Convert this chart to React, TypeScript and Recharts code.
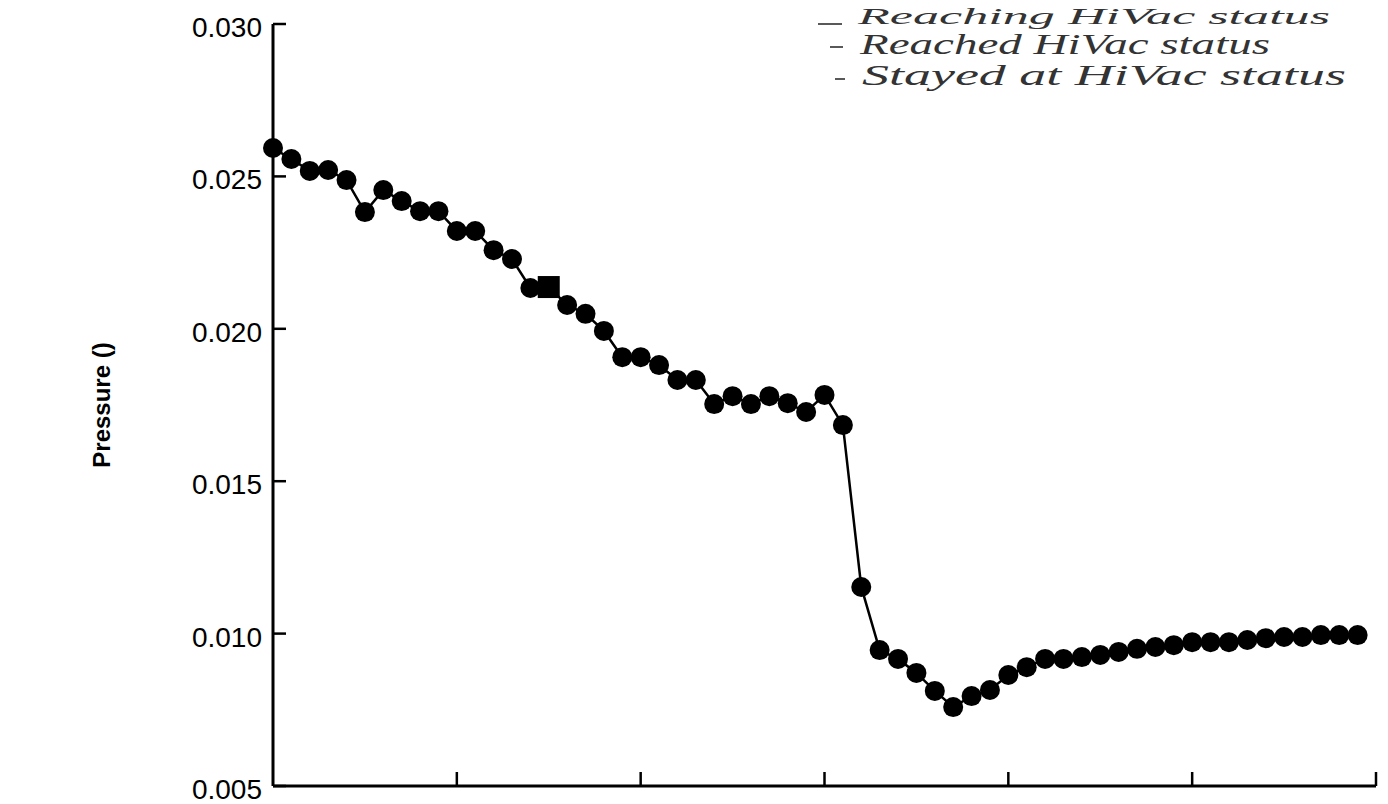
import React from "react";
import { LineChart, Line, XAxis, YAxis, Customized } from "recharts";

const timeIndex: number[] = Array.from({ length: 60 }, (_, i) => i);

const pressure: number[] = [
  0.02593, 0.02557, 0.02518, 0.02521, 0.02488, 0.02383, 0.02455, 0.02419, 0.02386, 0.02386,
  0.02321, 0.02321, 0.02258, 0.02229, 0.02134, 0.02137, 0.02078, 0.02049, 0.01993, 0.01907,
  0.01907, 0.01881, 0.01832, 0.01832, 0.01753, 0.01779, 0.01753, 0.01779, 0.01756, 0.01727,
  0.01783, 0.01684, 0.01153, 0.00946, 0.00917, 0.00871, 0.00812, 0.00759, 0.00795, 0.00815,
  0.00864, 0.0089, 0.00917, 0.00917, 0.00923, 0.0093, 0.0094, 0.0095, 0.00956, 0.00962,
  0.00972, 0.00972, 0.00972, 0.00979, 0.00985, 0.00989, 0.00989, 0.00995, 0.00995, 0.00995,
];

const squareIndex = 15;

const yTicks: number[] = [0.005, 0.01, 0.015, 0.02, 0.025, 0.03];
const yTickLabels: string[] = ["0.005", "0.010", "0.015", "0.020", "0.025", "0.030"];
const xTicks: number[] = [0, 10, 20, 30, 40, 50, 60];

const notes: string[] = ["Reaching HiVac status", "Reached HiVac status", "Stayed at HiVac status"];

const data = timeIndex.map((t, i) => ({ t, p: pressure[i] }));

const XTick = (props: any) => {
  const { x, y, payload } = props;
  if (payload.value === 0) return null;
  return <line x1={x} y1={y} x2={x} y2={y - 14} stroke="#000" strokeWidth={2.5} />;
};

const YTick = (props: any) => {
  const { x, y, payload } = props;
  const idx = yTicks.indexOf(payload.value);
  const label = idx >= 0 ? yTickLabels[idx] : String(payload.value);
  return (
    <g>
      <line x1={x} y1={y} x2={x + 13} y2={y} stroke="#000" strokeWidth={2.5} />
      <text
        x={x - 11}
        y={y + 13}
        textAnchor="end"
        fontFamily="'Liberation Sans', Arial, sans-serif"
        fontSize={28}
        fill="#000"
      >
        {label}
      </text>
    </g>
  );
};

const Dot = (props: any) => {
  const { cx, cy, index } = props;
  if (cx == null || cy == null) return null;
  if (index === squareIndex) {
    return <rect key={`d${index}`} x={cx - 11} y={cy - 11} width={22} height={22} fill="#000" />;
  }
  return <circle key={`d${index}`} cx={cx} cy={cy} r={10} fill="#000" stroke="none" />;
};

const Notes = () => {
  const font = "'Liberation Serif', 'DejaVu Serif', serif";
  const rows = [
    { dash: [818, 842, 24], tx: 858, ty: 24, len: 472, fs: 24 },
    { dash: [830, 843, 47], tx: 860, ty: 54, len: 410, fs: 29 },
    { dash: [835, 845, 79], tx: 862, ty: 85, len: 484, fs: 29 },
  ];
  return (
    <g>
      {rows.map((r, i) => (
        <g key={i}>
          <line x1={r.dash[0]} y1={r.dash[2]} x2={r.dash[1]} y2={r.dash[2]} stroke="#222" strokeWidth={1.5} />
          <text
            x={r.tx}
            y={r.ty}
            fontFamily={font}
            fontStyle="italic"
            fontSize={r.fs}
            fill="#333"
            textLength={r.len}
            lengthAdjust="spacingAndGlyphs"
          >
            {notes[i]}
          </text>
        </g>
      ))}
      <text
        transform="translate(110,405) rotate(-90)"
        textAnchor="middle"
        fontFamily="'Liberation Sans', Arial, sans-serif"
        fontWeight="bold"
        fontSize={24}
        fill="#000"
      >
        Pressure ()
      </text>
    </g>
  );
};

export default function App() {
  return (
    <div style={{ position: "absolute", left: 0, top: 0, width: 1388, height: 804, background: "#fff" }}>
      <LineChart width={1388} height={804} data={data} margin={{ top: 24, right: 12, bottom: 0, left: 0 }}>
        <XAxis
          dataKey="t"
          type="number"
          domain={[0, 60]}
          ticks={xTicks}
          tick={<XTick />}
          tickLine={false}
          tickSize={0}
          tickMargin={0}
          height={18}
          axisLine={{ stroke: "#000", strokeWidth: 3 }}
          interval={0}
        />
        <YAxis
          type="number"
          domain={[0.005, 0.03]}
          ticks={yTicks}
          tick={<YTick />}
          tickLine={false}
          tickSize={0}
          tickMargin={0}
          width={273}
          axisLine={{ stroke: "#000", strokeWidth: 3 }}
          interval={0}
          allowDataOverflow
        />
        <Line
          type="linear"
          dataKey="p"
          stroke="#000"
          strokeWidth={2.5}
          dot={<Dot />}
          activeDot={false}
          isAnimationActive={false}
        />
        <Customized component={<Notes />} />
      </LineChart>
    </div>
  );
}
